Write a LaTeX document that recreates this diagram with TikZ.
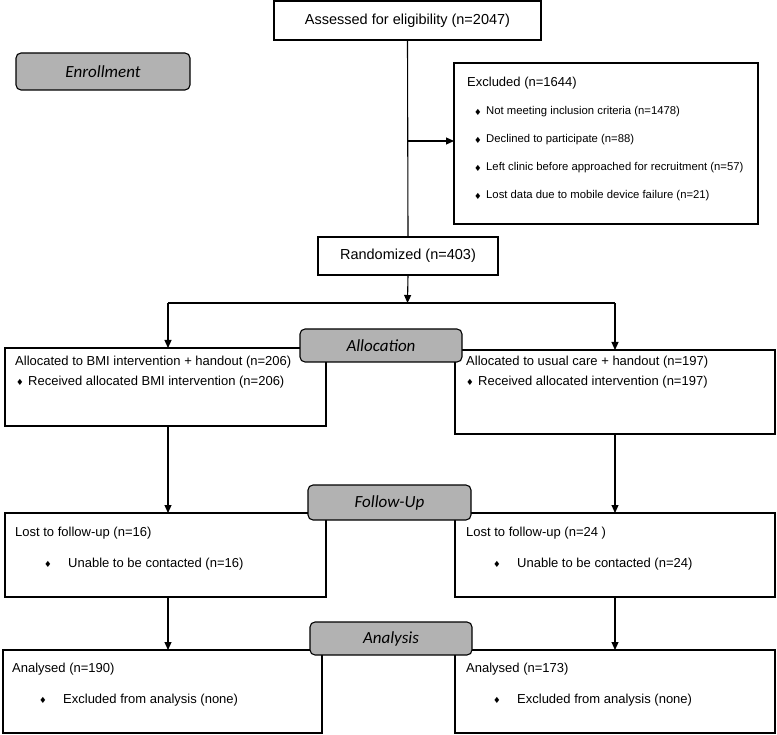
\documentclass[tikz,border=0pt]{standalone}
\usepackage{fontspec}
\setmainfont{Liberation Sans}
\newfontfamily\labfont{Carlito}
\newfontfamily\symfont{DejaVu Sans}
\usetikzlibrary{arrows.meta}
\tikzset{
 box/.style={draw, line width=1.1pt, inner sep=0pt, outer sep=0pt, anchor=north west},
 phase/.style={draw, line width=1.1pt, fill=gray!60, rounded corners=5pt, inner sep=0pt, outer sep=0pt, anchor=north west, font=\labfont\itshape\fontsize{17}{18}\selectfont},
 txt/.style={anchor=west, inner sep=0pt, font=\fontsize{13}{15}\selectfont},
 smalltxt/.style={anchor=west, inner sep=0pt, font=\fontsize{11.3}{13}\selectfont},
 bul/.style={anchor=center, inner sep=0pt, font=\symfont\fontsize{8.5}{9}\selectfont},
 arr/.style={line width=1.1pt, -{Triangle[width=7pt,length=8pt]}},
 ln/.style={line width=1.1pt},
}
\begin{document}
\begin{tikzpicture}[x=1pt,y=-1pt]
\useasboundingbox (0,0) rectangle (777,735);
% boxes
\node[box, minimum width=267pt, minimum height=39pt, font=\fontsize{14.5}{16}\selectfont] (assess) at (274,1) {Assessed for eligibility (n=2047)};
\node[box, minimum width=304pt, minimum height=161pt] (excl) at (454,63) {};
\node[box, minimum width=180pt, minimum height=38pt, font=\fontsize{14.5}{16}\selectfont] (rand) at (318,237) {Randomized (n=403)};
\node[box, minimum width=321pt, minimum height=78pt] (allocL) at (5,348) {};
\node[box, minimum width=320pt, minimum height=84pt] (allocR) at (455,350) {};
\node[box, minimum width=321pt, minimum height=84pt] (follL) at (5,513) {};
\node[box, minimum width=320pt, minimum height=84pt] (follR) at (455,513) {};
\node[box, minimum width=319pt, minimum height=83pt] (anaL) at (3,650) {};
\node[box, minimum width=320pt, minimum height=83pt] (anaR) at (455,650) {};
% phase labels
\node[phase, minimum width=174pt, minimum height=37pt] (enroll) at (16,53) {Enrollment};
\node[phase, minimum width=162pt, minimum height=33pt] (allocation) at (300,329) {Allocation};
\node[phase, minimum width=163pt, minimum height=35pt] (followup) at (308,485) {Follow-Up};
\node[phase, minimum width=162pt, minimum height=33pt] (analysis) at (310,622) {Analysis};
% excluded text
\node[txt] (exh) at (467,83) {Excluded (n=1644)};
\node[bul] (eb1) at (478,112) {♦};
\node[smalltxt] (et1) at (486,112) {Not meeting inclusion criteria (n=1478)};
\node[bul] (eb2) at (478,140) {♦};
\node[smalltxt] (et2) at (486,140) {Declined to participate (n=88)};
\node[bul] (eb3) at (478,168) {♦};
\node[smalltxt] (et3) at (486,168) {Left clinic before approached for recruitment (n=57)};
\node[bul] (eb4) at (478,196) {♦};
\node[smalltxt] (et4) at (486,196) {Lost data due to mobile device failure (n=21)};
% allocation texts
\node[txt] (alh) at (15,362) {Allocated to BMI intervention + handout (n=206)};
\node[bul] (alb) at (20,382) {♦};
\node[txt] (alt) at (28,382) {Received allocated BMI intervention (n=206)};
\node[txt] (arh) at (466,362) {Allocated to usual care + handout (n=197)};
\node[bul] (arb) at (470,382) {♦};
\node[txt] (art) at (478,382) {Received allocated intervention (n=197)};
% follow-up texts
\node[txt] (flh) at (15,533) {Lost to follow-up (n=16)};
\node[bul] (flb) at (48,564) {♦};
\node[txt] (flt) at (68,564) {Unable to be contacted (n=16)};
\node[txt] (frh) at (466,533) {Lost to follow-up (n=24 )};
\node[bul] (frb) at (497,564) {♦};
\node[txt] (frt) at (517,564) {Unable to be contacted (n=24)};
% analysis texts
\node[txt] (anlh) at (12,669) {Analysed (n=190)};
\node[bul] (anlb) at (43,700) {♦};
\node[txt] (anlt) at (63,700) {Excluded from analysis (none)};
\node[txt] (anrh) at (466,669) {Analysed (n=173)};
\node[bul] (anrb) at (497,700) {♦};
\node[txt] (anrt) at (517,700) {Excluded from analysis (none)};
% connectors
\coordinate (ex) at (407.5,141);
\coordinate (sp) at (407.5,303);
\coordinate (spL) at (168,303);
\coordinate (spR) at (615,303);
\draw[ln] (assess.south) -- (rand.north);
\draw[arr] (ex) -- (excl.west |- ex);
\draw[arr] (rand.south) -- (sp);
\draw[ln] (spL) -- (spR);
\draw[arr] (spL) -- (allocL.north -| spL);
\draw[arr] (spR) -- (allocR.north -| spR);
\draw[arr] (allocL.south -| spL) -- (follL.north -| spL);
\draw[arr] (allocR.south -| spR) -- (follR.north -| spR);
\draw[arr] (follL.south -| spL) -- (anaL.north -| spL);
\draw[arr] (follR.south -| spR) -- (anaR.north -| spR);
\end{tikzpicture}
\end{document}
